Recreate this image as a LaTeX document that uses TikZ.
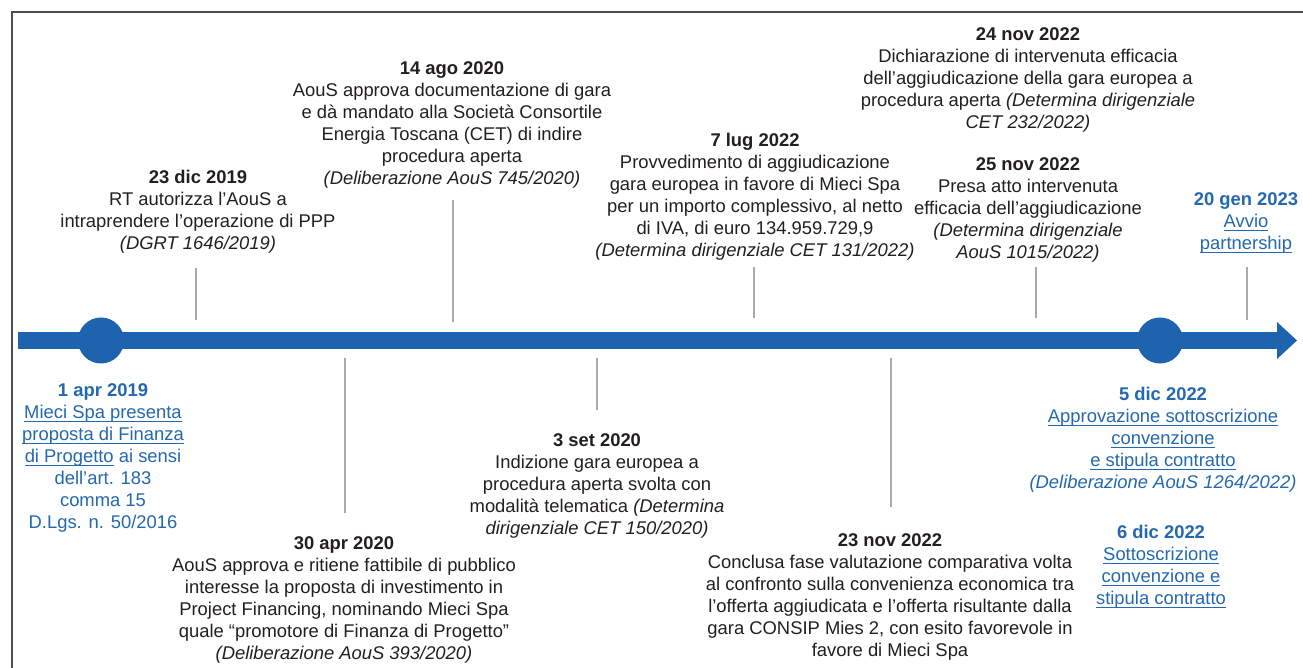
\documentclass[tikz,border=0pt]{standalone}
\usepackage{fontspec}
\setmainfont{Liberation Sans}
\newsavebox{\lnkbox}
\newcommand{\lnk}[1]{\sbox{\lnkbox}{#1}\rlap{\raisebox{-3.6pt}{\rule{\wd\lnkbox}{1pt}}}\usebox{\lnkbox}}
\begin{document}
\begin{tikzpicture}[x=1pt,y=1pt,
  eventtext/.style={anchor=north,align=center,inner sep=0pt,outer sep=0pt,text=textColor,font=\fontsize{18.4}{22}\selectfont},
  linktext/.style={eventtext,text=linkColor},
  tickline/.style={draw=tickColor,line width=2pt},
  milestone/.style={circle,fill=barColor,inner sep=0pt,outer sep=0pt,minimum size=46pt}]
\definecolor{fillColor}{RGB}{255,255,255}
\definecolor{textColor}{RGB}{35,31,32}
\definecolor{linkColor}{RGB}{36,104,176}
\definecolor{barColor}{RGB}{30,99,173}
\definecolor{tickColor}{RGB}{170,170,170}
\path[use as bounding box,fill=fillColor] (0,0) rectangle (1303,668);
\begin{scope}
\path[clip] (0,0) rectangle (1303,668);
\definecolor{drawColor}{RGB}{77,77,77}

\path[draw=drawColor,line width= 1.5pt] (12,-10) -- (12,656) -- (1320,656);

\path[fill=barColor] (18,319) rectangle (1278,336);

\path[fill=barColor] (1277,346) -- (1297,327.5) -- (1277,309) -- cycle;

\node[milestone] (apr19dot) at (101,327.5) {};

\node[milestone] (dic5dot) at (1160,327.5) {};

\coordinate (dic19top) at (196,400);
\coordinate (dic19bot) at (196,348);
\coordinate (ago20top) at (453,468);
\coordinate (ago20bot) at (453,346);
\coordinate (lug22top) at (754,401);
\coordinate (lug22bot) at (754,350);
\coordinate (nov25top) at (1036,401);
\coordinate (nov25bot) at (1036,350);
\coordinate (gen23top) at (1247,401);
\coordinate (gen23bot) at (1247,348);
\coordinate (apr20top) at (345,310);
\coordinate (apr20bot) at (345,155);
\coordinate (set20top) at (597,310);
\coordinate (set20bot) at (597,258);
\coordinate (nov23top) at (891,310);
\coordinate (nov23bot) at (891,161);

\path[tickline] (dic19top) -- (dic19bot);

\path[tickline] (ago20top) -- (ago20bot);

\path[tickline] (lug22top) -- (lug22bot);

\path[tickline] (nov25top) -- (nov25bot);

\path[tickline] (gen23top) -- (gen23bot);

\path[tickline] (apr20top) -- (apr20bot);

\path[tickline] (set20top) -- (set20bot);

\path[tickline] (nov23top) -- (nov23bot);

\node[eventtext] (dic19) at (198,498.3) {\textbf{23 dic 2019}\\RT autorizza l’AouS a\\intraprendere l’operazione di PPP\\\textit{(DGRT 1646/2019)}};

\node[eventtext] (ago20) at (452,606.3) {\textbf{14 ago 2020}\\AouS approva documentazione di gara\\e dà mandato alla Società Consortile\\Energia Toscana (CET) di indire\\procedura aperta\\\textit{(Deliberazione AouS 745/2020)}};

\node[eventtext] (lug22) at (755,535.3) {\textbf{7 lug 2022}\\Provvedimento di aggiudicazione\\gara europea in favore di Mieci Spa\\per un importo complessivo, al netto\\di IVA, di euro 134.959.729,9\\\textit{(Determina dirigenziale CET 131/2022)}};

\node[eventtext] (nov24) at (1028,640.3) {\textbf{24 nov 2022}\\Dichiarazione di intervenuta efficacia\\dell’aggiudicazione della gara europea a\\procedura aperta \textit{(Determina dirigenziale}\\\textit{CET 232/2022)}};

\node[eventtext] (nov25) at (1028,510.3) {\textbf{25 nov 2022}\\Presa atto intervenuta\\efficacia dell’aggiudicazione\\\textit{(Determina dirigenziale}\\\textit{AouS 1015/2022)}};

\node[linktext] (gen23) at (1246,475.3) {\textbf{20 gen 2023}\\\lnk{Avvio}\\\lnk{partnership}};

\node[linktext] (apr19) at (103,284.3) {\textbf{1 apr 2019}\\\lnk{Mieci Spa presenta}\\\lnk{proposta di Finanza}\\\lnk{di Progetto} ai sensi\\dell’art. 183\\comma 15\\D.Lgs. n. 50/2016};

\node[eventtext] (apr20) at (344,131.3) {\textbf{30 apr 2020}\\AouS approva e ritiene fattibile di pubblico\\interesse la proposta di investimento in\\Project Financing, nominando Mieci Spa\\quale “promotore di Finanza di Progetto”\\\textit{(Deliberazione AouS 393/2020)}};

\node[eventtext] (set20) at (597,234.3) {\textbf{3 set 2020}\\Indizione gara europea a\\procedura aperta svolta con\\modalità telematica \textit{(Determina}\\\textit{dirigenziale CET 150/2020)}};

\node[eventtext] (nov23) at (890,134.3) {\textbf{23 nov 2022}\\Conclusa fase valutazione comparativa volta\\al confronto sulla convenienza economica tra\\l’offerta aggiudicata e l’offerta risultante dalla\\gara CONSIP Mies 2, con esito favorevole in\\favore di Mieci Spa};

\node[linktext] (dic5) at (1163,281.3) {\textbf{5 dic 2022}\\\lnk{Approvazione sottoscrizione}\\\lnk{convenzione}\\\lnk{e stipula contratto}\\\textit{(Deliberazione AouS 1264/2022)}};

\node[linktext] (dic6) at (1161,143.3) {\textbf{6 dic 2022}\\\lnk{Sottoscrizione}\\\lnk{convenzione e}\\\lnk{stipula contratto}};
\end{scope}
\end{tikzpicture}
\end{document}
